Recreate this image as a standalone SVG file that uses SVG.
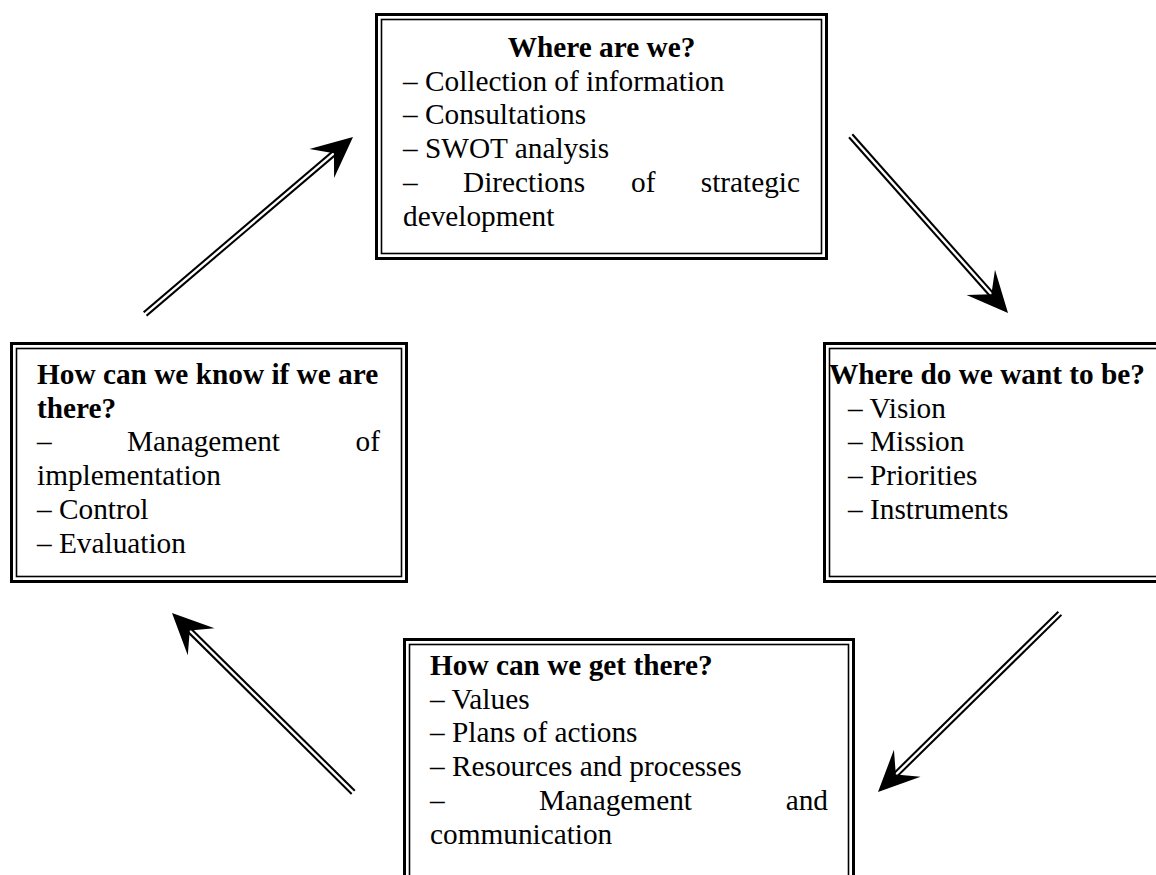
<svg xmlns="http://www.w3.org/2000/svg" width="1156" height="875" viewBox="0 0 1156 875">
  <style>
    .outer { fill: #fff; stroke: #000; stroke-width: 3; }
    .inner { fill: none; stroke: #000; stroke-width: 1.6; }
    text { font-family: "Liberation Serif", "Times New Roman", serif; font-size: 29.3px; fill: #000; }
    .title { font-weight: bold; }
    .shaft-out { stroke: #000; stroke-width: 6.5; }
    .shaft-in { stroke: #fff; stroke-width: 2.4; }
  </style>
  <defs>
    <!-- solid arrowhead, tip at origin pointing along +x -->
    <path id="head" d="M0,0 L-41,-19 L-25,0 L-41,19 Z" fill="#000"/>
  </defs>

  <rect width="1156" height="875" fill="#fff"/>

  <!-- Where are we? -->
  <g id="node-where-are-we">
    <rect class="outer" x="376.5" y="14.5" width="450" height="244"/>
    <rect class="inner" x="381.5" y="19.5" width="440" height="234"/>
    <text class="title" x="601.5" y="57" text-anchor="middle">Where are we?</text>
    <text x="403" y="90.7">– Collection of information</text>
    <text x="403" y="124.4">– Consultations</text>
    <text x="403" y="158.1">– SWOT analysis</text>
    <text y="191.8"><tspan x="403">–</tspan><tspan x="463">Directions</tspan><tspan x="631">of</tspan><tspan x="800" text-anchor="end">strategic</tspan></text>
    <text x="403" y="225.5">development</text>
  </g>

  <!-- Where do we want to be? -->
  <g id="node-where-to-be">
    <rect class="outer" x="824.5" y="343.5" width="340" height="238"/>
    <rect class="inner" x="829.5" y="348.5" width="330" height="228"/>
    <text class="title" x="829" y="384">Where do we want to be?</text>
    <text x="848" y="417.7">– Vision</text>
    <text x="848" y="451.4">– Mission</text>
    <text x="848" y="485.1">– Priorities</text>
    <text x="848" y="518.8">– Instruments</text>
  </g>

  <!-- How can we get there? -->
  <g id="node-get-there">
    <rect class="outer" x="404.5" y="639.5" width="449" height="260"/>
    <rect class="inner" x="409.5" y="644.5" width="439" height="250"/>
    <text class="title" x="430" y="675">How can we get there?</text>
    <text x="430" y="708.7">– Values</text>
    <text x="430" y="742.4">– Plans of actions</text>
    <text x="430" y="776.1">– Resources and processes</text>
    <text y="809.8"><tspan x="430">–</tspan><tspan x="539">Management</tspan><tspan x="828" text-anchor="end">and</tspan></text>
    <text x="430" y="843.5">communication</text>
  </g>

  <!-- How can we know if we are there? -->
  <g id="node-know-there">
    <rect class="outer" x="11.5" y="343.5" width="395" height="238"/>
    <rect class="inner" x="16.5" y="348.5" width="385" height="228"/>
    <text class="title" x="37" y="384">How can we know if we are</text>
    <text class="title" x="37" y="417.7">there?</text>
    <text y="451.4"><tspan x="37">–</tspan><tspan x="127">Management</tspan><tspan x="380" text-anchor="end">of</tspan></text>
    <text x="37" y="485.1">implementation</text>
    <text x="37" y="518.8">– Control</text>
    <text x="37" y="552.5">– Evaluation</text>
  </g>

  <!-- cycle connectors: double-line shafts with solid heads -->
  <g id="connectors">
    <g transform="translate(353,137) rotate(-40.4)">
      <line class="shaft-out" x1="-273" y1="0" x2="-20" y2="0"/>
      <line class="shaft-in" x1="-274" y1="0" x2="-21" y2="0"/>
      <use href="#head"/>
    </g>
    <g transform="translate(1008,313) rotate(48.4)">
      <line class="shaft-out" x1="-237" y1="0" x2="-20" y2="0"/>
      <line class="shaft-in" x1="-238" y1="0" x2="-21" y2="0"/>
      <use href="#head"/>
    </g>
    <g transform="translate(878,792) rotate(135.5)">
      <line class="shaft-out" x1="-255" y1="0" x2="-20" y2="0"/>
      <line class="shaft-in" x1="-256" y1="0" x2="-21" y2="0"/>
      <use href="#head"/>
    </g>
    <g transform="translate(172,613) rotate(-135.3)">
      <line class="shaft-out" x1="-255" y1="0" x2="-20" y2="0"/>
      <line class="shaft-in" x1="-256" y1="0" x2="-21" y2="0"/>
      <use href="#head"/>
    </g>
  </g>
</svg>
